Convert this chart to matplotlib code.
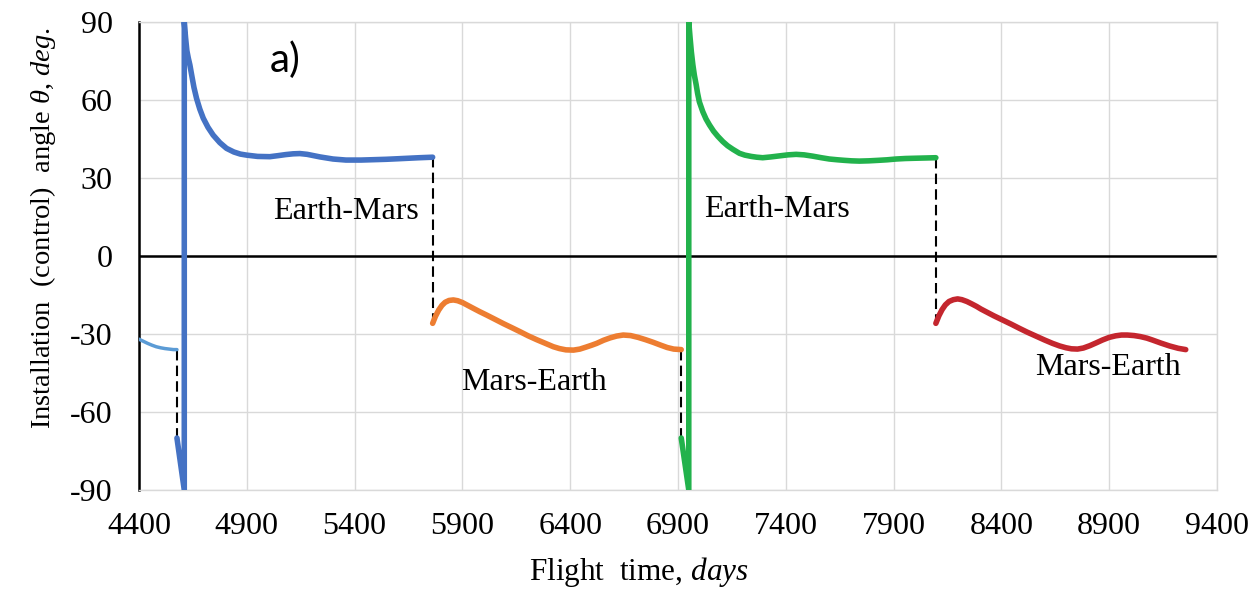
import matplotlib
matplotlib.use("Agg")
import matplotlib.pyplot as plt

plt.rcParams['font.family'] = ['Liberation Serif', 'DejaVu Serif']
plt.rcParams['mathtext.fontset'] = 'custom'
plt.rcParams['mathtext.rm'] = 'Liberation Serif'
plt.rcParams['mathtext.it'] = 'Liberation Serif:italic'
plt.rcParams['axes.unicode_minus'] = False

# flight time (days) / control angle (deg) per leg
pre_t  = [4400, 4420, 4440, 4460, 4480, 4500, 4520, 4540, 4560, 4576]
pre_th = [-32.0, -32.8, -33.6, -34.3, -34.9, -35.3, -35.6, -35.8, -36.0, -36.0]

em1_t  = [4576, 4610, 4610, 4616, 4622, 4629, 4636, 4645, 4655, 4667, 4682,
          4698, 4720, 4744, 4775, 4806, 4840, 4870, 4899, 4950, 5007, 5045,
          5080, 5115, 5146, 5180, 5210, 5240, 5270, 5300, 5330, 5360, 5393,
          5430, 5470, 5510, 5548, 5600, 5650, 5700, 5762]
em1_th = [-70, -90, 90, 84.0, 79.0, 76.0, 73.5, 69.3, 64.8, 60.6, 56.5,
          53.0, 49.5, 46.5, 43.6, 41.4, 40.0, 39.2, 38.8, 38.3, 38.2, 38.6,
          39.0, 39.3, 39.4, 39.1, 38.6, 38.1, 37.7, 37.3, 37.1, 36.9, 36.9,
          36.9, 37.0, 37.1, 37.2, 37.4, 37.6, 37.8, 38.0]

me1_t  = [5762, 5775, 5790, 5805, 5820, 5838, 5858, 5878, 5900, 5925, 5950,
          5980, 6012, 6050, 6090, 6130, 6167, 6205, 6245, 6285, 6322, 6350,
          6380, 6415, 6445, 6475, 6500, 6523, 6555, 6585, 6615, 6646, 6680,
          6715, 6750, 6785, 6820, 6850, 6880, 6915]
me1_th = [-25.9, -23.2, -20.8, -19.0, -17.8, -17.1, -16.9, -17.2, -17.9,
          -19.0, -20.1, -21.4, -22.7, -24.3, -26.0, -27.6, -29.1, -30.7,
          -32.2, -33.6, -34.9, -35.6, -36.1, -36.2, -35.8, -35.0, -34.3,
          -33.6, -32.4, -31.5, -30.8, -30.4, -30.6, -31.3, -32.2, -33.2,
          -34.3, -35.2, -35.8, -36.0]

em2_t  = [6915, 6950, 6950, 6956, 6962, 6969, 6976, 6984, 6991, 6999, 7015,
          7030, 7046, 7065, 7085, 7108, 7130, 7155, 7185, 7210, 7240, 7265,
          7293, 7330, 7370, 7410, 7448, 7485, 7525, 7565, 7602, 7640, 7670,
          7705, 7741, 7785, 7830, 7870, 7911, 7955, 8000, 8050, 8096]
em2_th = [-70, -90, 90, 84.0, 78.5, 73.5, 69.5, 66.0, 62.5, 59.3, 55.5,
          52.7, 50.4, 48.0, 46.0, 44.0, 42.4, 41.0, 39.5, 38.8, 38.3, 38.0,
          37.8, 38.1, 38.5, 38.9, 39.1, 38.9, 38.4, 37.8, 37.3, 37.0, 36.8,
          36.6, 36.5, 36.6, 36.8, 37.0, 37.3, 37.5, 37.6, 37.7, 37.8]

me2_t  = [8096, 8110, 8125, 8140, 8157, 8177, 8197, 8217, 8240, 8262, 8285,
          8305, 8328, 8365, 8405, 8445, 8483, 8520, 8560, 8600, 8637, 8670,
          8700, 8725, 8753, 8780, 8810, 8840, 8869, 8900, 8930, 8957, 8984,
          9015, 9045, 9075, 9100, 9140, 9180, 9220, 9255]
me2_th = [-25.9, -23.0, -20.6, -18.8, -17.5, -16.8, -16.5, -16.8, -17.5,
          -18.4, -19.4, -20.4, -21.4, -23.0, -24.6, -26.2, -27.8, -29.3,
          -30.8, -32.3, -33.6, -34.6, -35.3, -35.7, -35.8, -35.4, -34.5,
          -33.4, -32.3, -31.3, -30.7, -30.4, -30.4, -30.6, -31.0, -31.6,
          -32.3, -33.5, -34.6, -35.5, -36.0]

# vertical dashed connectors between legs: (t, theta_from, theta_to)
jumps = [(4576, -36.0, -70), (5762, 38.0, -25.9),
         (6915, -36.0, -70), (8096, 37.8, -25.9)]

leg_labels = ["Earth-Mars", "Mars-Earth", "Earth-Mars", "Mars-Earth"]
label_t    = [5359, 6233, 7361, 8894]
label_th   = [17.0, -48.8, 17.7, -43.0]

xticks = list(range(4400, 9401, 500))
yticks = list(range(-90, 91, 30))

fig = plt.figure(figsize=(12.57, 5.91), dpi=100)
ax = fig.add_axes([139 / 1257, 1 - 490 / 591, 1078 / 1257, 468 / 591])

grid_c = '#D9D9D9'
ax.set_xlim(4400, 9400)
ax.set_ylim(-90, 90)
ax.set_xticks(xticks)
ax.set_yticks(yticks)
ax.grid(True, color=grid_c, lw=1.0, zorder=0)
ax.set_axisbelow(True)
for s in ['top', 'right', 'bottom']:
    ax.spines[s].set_color(grid_c)
    ax.spines[s].set_linewidth(1.0)
ax.spines['left'].set_color('black')
ax.spines['left'].set_linewidth(1.8)
ax.tick_params(axis='both', length=0, labelsize=23)
ax.tick_params(axis='y', pad=19)
ax.tick_params(axis='x', pad=16)

ax.axhline(0, color='black', lw=1.8, zorder=2)

for t, a, b in jumps:
    ax.plot([t, t], [a, b], color='black', lw=1.5, ls=(0, (5, 2.5)), zorder=2.5)

kw = dict(solid_joinstyle='round', solid_capstyle='round', zorder=3)
ax.plot(pre_t, pre_th, color='#5B9BD5', lw=2.5, **kw)
ax.plot(em1_t, em1_th, color='#4472C4', lw=4.0, **kw)
ax.plot(me1_t, me1_th, color='#ED7D31', lw=4.0, **kw)
ax.plot(em2_t, em2_th, color='#22B24C', lw=4.0, **kw)
ax.plot(me2_t, me2_th, color='#C4262E', lw=4.0, **kw)

for txt, t, th in zip(leg_labels, label_t, label_th):
    ax.text(t, th, txt, fontsize=23, ha='center', va='center', zorder=4)

ax.text(5077, 75.5, "a)", family=['Lato', 'DejaVu Sans'], fontsize=29,
        ha='center', va='center')

fig.text(638.5 / 1257, 1 - 572 / 591, r"Flight  time, $days$", fontsize=22.5,
         ha='center', va='center')
fig.text(43 / 1257, 1 - 228 / 591,
         r"Installation  (control)  angle $\theta$, $deg.$", fontsize=20.5,
         rotation=90, ha='center', va='center')

fig.savefig("out.png", dpi=100)
